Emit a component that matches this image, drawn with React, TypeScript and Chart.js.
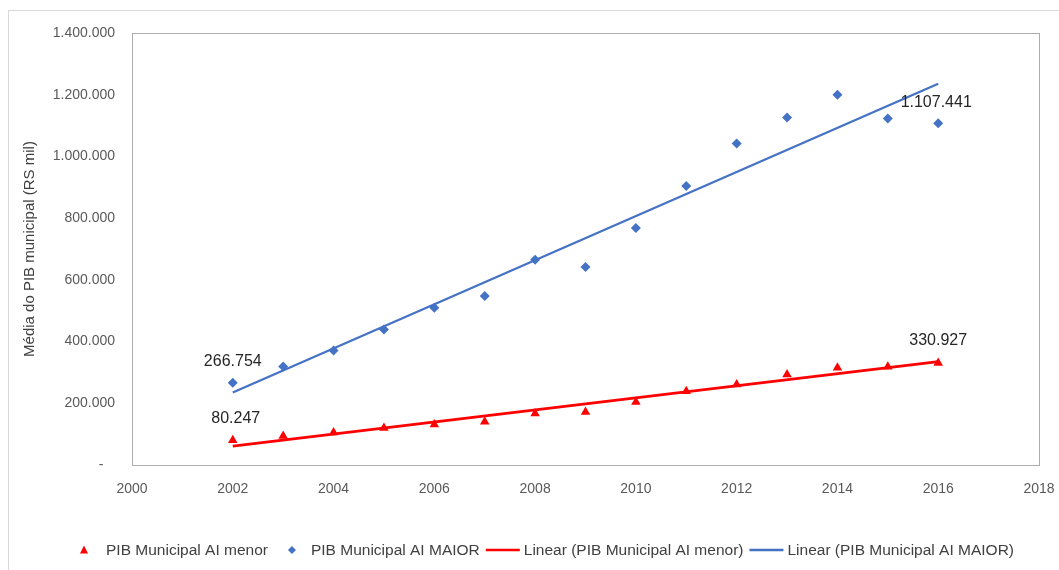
import React, { useEffect, useRef } from "react";
import { Chart, registerables } from "chart.js";

Chart.register(...registerables);

// Average municipal GDP (R$ thousand) per year, for the two groups
const years = [2002, 2003, 2004, 2005, 2006, 2007, 2008, 2009, 2010, 2011, 2012, 2013, 2014, 2015, 2016];
const pibMenor = [80247, 94000, 105000, 120000, 131000, 140000, 167000, 172000, 204000, 239000, 261000, 293000, 315000, 318000, 330927];
const pibMaior = [266754, 319000, 371000, 439000, 510000, 548000, 665000, 642000, 768000, 904000, 1042000, 1126000, 1200000, 1123000, 1107441];

const xTicks = [2000, 2002, 2004, 2006, 2008, 2010, 2012, 2014, 2016, 2018];
const yTicks = [0, 200000, 400000, 600000, 800000, 1000000, 1200000, 1400000];

const labelMenor = "PIB Municipal AI menor";
const labelMaior = "PIB Municipal AI MAIOR";

const RED = "#FF0000";
const BLUE = "#4472C4";
const FONT = "'Liberation Sans', Arial, sans-serif";

const fmt = (n: number) =>
  Math.round(n)
    .toString()
    .replace(/\B(?=(\d{3})+(?!\d))/g, ".");

// Least-squares linear trend evaluated at the first and last year
function linearTrend(xs: number[], ys: number[]) {
  const n = xs.length;
  const mx = xs.reduce((a, b) => a + b, 0) / n;
  const my = ys.reduce((a, b) => a + b, 0) / n;
  let sxy = 0;
  let sxx = 0;
  for (let i = 0; i < n; i++) {
    sxy += (xs[i] - mx) * (ys[i] - my);
    sxx += (xs[i] - mx) * (xs[i] - mx);
  }
  const slope = sxy / sxx;
  const b = my - slope * mx;
  const x0 = xs[0];
  const x1 = xs[n - 1];
  return [
    { x: x0, y: slope * x0 + b },
    { x: x1, y: slope * x1 + b },
  ];
}

// Value labels: dataset index, point index, pixel offsets
const valueLabels = [
  { ds: 1, idx: 0, dx: 0, dy: -21 },
  { ds: 0, idx: 0, dx: 3, dy: -22 },
  { ds: 1, idx: years.length - 1, dx: -2, dy: -21 },
  { ds: 0, idx: years.length - 1, dx: 0, dy: -22 },
];

const frameAndLabels = {
  id: "frameAndLabels",
  beforeDatasetsDraw(chart: any) {
    const { ctx, chartArea } = chart;
    ctx.save();
    ctx.strokeStyle = "#ADADAD";
    ctx.lineWidth = 1;
    ctx.strokeRect(
      Math.round(chartArea.left) + 0.5,
      Math.round(chartArea.top) + 0.5,
      Math.round(chartArea.right - chartArea.left),
      Math.round(chartArea.bottom - chartArea.top)
    );
    ctx.restore();
  },
  afterDatasetsDraw(chart: any) {
    const { ctx } = chart;
    ctx.save();
    ctx.font = `16px ${FONT}`;
    ctx.fillStyle = "#262626";
    ctx.textAlign = "center";
    ctx.textBaseline = "middle";
    for (const l of valueLabels) {
      const el = chart.getDatasetMeta(l.ds).data[l.idx];
      const v = chart.data.datasets[l.ds].data[l.idx].y;
      ctx.fillText(fmt(v), el.x + l.dx, el.y + l.dy);
    }
    ctx.restore();
  },
  afterDraw(chart: any) {
    // Legend row under the axis
    const { ctx } = chart;
    const items = [
      { kind: "triangle", color: RED, text: labelMenor },
      { kind: "diamond", color: BLUE, text: labelMaior },
      { kind: "line", color: RED, text: `Linear (${labelMenor})` },
      { kind: "line", color: BLUE, text: `Linear (${labelMaior})` },
    ];
    ctx.save();
    ctx.font = `15.5px ${FONT}`;
    ctx.textBaseline = "middle";
    const symW = (k: string) => (k === "line" ? 38 : k === "triangle" ? 26 : 23);
    const widths = items.map((it) => symW(it.kind) + ctx.measureText(it.text).width);
    const gaps = items.map((it, i) =>
      i === items.length - 1 ? 0 : items[i + 1].kind === "line" ? 6 : 20
    );
    const total = widths.reduce((a, b) => a + b, 0) + gaps.reduce((a, b) => a + b, 0);
    let x = 547 - total / 2;
    const y = 550;
    items.forEach((it, i) => {
      ctx.fillStyle = it.color;
      ctx.strokeStyle = it.color;
      if (it.kind === "triangle") {
        const cx = x + 4;
        ctx.beginPath();
        ctx.moveTo(cx, y - 4.5);
        ctx.lineTo(cx + 4, y + 3.5);
        ctx.lineTo(cx - 4, y + 3.5);
        ctx.closePath();
        ctx.fill();
      } else if (it.kind === "diamond") {
        const cx = x + 4;
        ctx.beginPath();
        ctx.moveTo(cx, y - 4);
        ctx.lineTo(cx + 4, y);
        ctx.lineTo(cx, y + 4);
        ctx.lineTo(cx - 4, y);
        ctx.closePath();
        ctx.fill();
      } else {
        ctx.lineWidth = 2.5;
        ctx.beginPath();
        ctx.moveTo(x, y);
        ctx.lineTo(x + 34, y);
        ctx.stroke();
      }
      ctx.fillStyle = "#404040";
      ctx.textAlign = "left";
      ctx.fillText(it.text, x + symW(it.kind), y + 1);
      x += widths[i] + gaps[i];
    });
    ctx.restore();
  },
};

export default function App() {
  const canvasRef = useRef<HTMLCanvasElement | null>(null);

  useEffect(() => {
    if (!canvasRef.current) return;
    const menorPts = years.map((x, i) => ({ x, y: pibMenor[i] }));
    const maiorPts = years.map((x, i) => ({ x, y: pibMaior[i] }));

    const chart = new Chart(canvasRef.current, {
      type: "scatter",
      data: {
        datasets: [
          {
            label: labelMenor,
            data: menorPts,
            pointStyle: "triangle",
            pointRadius: 5.5,
            backgroundColor: RED,
            borderColor: RED,
            borderWidth: 0,
            order: 1,
          },
          {
            label: labelMaior,
            data: maiorPts,
            pointStyle: "rectRot",
            pointRadius: 5,
            backgroundColor: BLUE,
            borderColor: BLUE,
            borderWidth: 0,
            order: 1,
          },
          {
            type: "line",
            label: `Linear (${labelMenor})`,
            data: linearTrend(years, pibMenor),
            borderColor: RED,
            borderWidth: 2.75,
            pointRadius: 0,
            fill: false,
            order: 2,
          },
          {
            type: "line",
            label: `Linear (${labelMaior})`,
            data: linearTrend(years, pibMaior),
            borderColor: BLUE,
            borderWidth: 2.25,
            pointRadius: 0,
            fill: false,
            order: 2,
          },
        ],
      } as any,
      options: {
        responsive: false,
        animation: false,
        layout: { padding: { left: 0, top: 33, right: 20, bottom: 70 } },
        plugins: {
          legend: { display: false },
          tooltip: { enabled: false },
        },
        scales: {
          x: {
            type: "linear",
            min: 2000,
            max: 2018,
            afterBuildTicks: (scale: any) => {
              scale.ticks = xTicks.map((v) => ({ value: v }));
            },
            afterFit: (scale: any) => {
              scale.height = 35;
            },
            // invisible tick marks provide the gap between axis and labels
            grid: { display: false, drawTicks: true, tickLength: 16 },
            border: { display: false },
            ticks: {
              padding: 0,
              color: "#595959",
              font: { family: FONT, size: 14 },
              callback: (v: any) => String(v),
            },
          },
          y: {
            type: "linear",
            min: 0,
            max: 1400000,
            afterBuildTicks: (scale: any) => {
              scale.ticks = yTicks.map((v) => ({ value: v }));
            },
            afterFit: (scale: any) => {
              scale.width = 132;
            },
            grid: { display: false, drawTicks: false },
            border: { display: false },
            ticks: {
              padding: 17,
              color: "#595959",
              font: { family: FONT, size: 14 },
              callback: (v: any) => (v === 0 ? "-   " : fmt(v)),
            },
            title: {
              display: true,
              text: "Média do PIB municipal (RS mil)",
              color: "#404040",
              font: { family: FONT, size: 15 },
              padding: { top: 21, bottom: 0 },
            },
          },
        },
      },
      plugins: [frameAndLabels],
    });
    return () => chart.destroy();
  }, []);

  return (
    <div style={{ position: "absolute", left: 0, top: 0, width: 1059, height: 570, overflow: "hidden", background: "#fff" }}>
      <div
        style={{
          position: "absolute",
          left: 8,
          top: 10,
          width: 1060,
          height: 570,
          border: "1px solid #D9D9D9",
        }}
      />
      <canvas ref={canvasRef} width={1059} height={570} style={{ position: "absolute", left: 0, top: 0 }} />
    </div>
  );
}
